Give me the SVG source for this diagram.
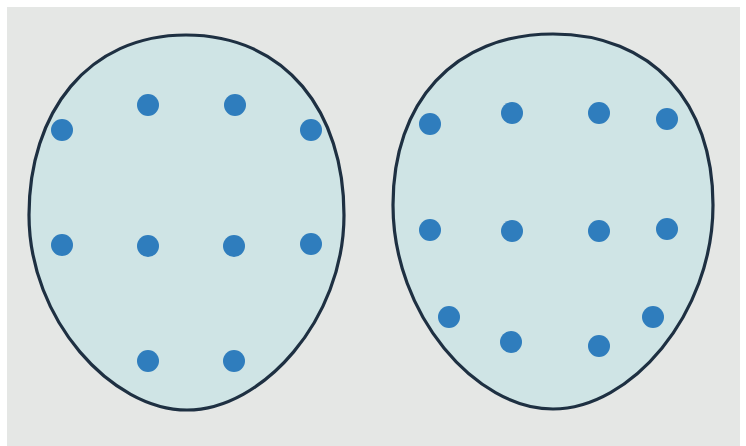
<svg xmlns="http://www.w3.org/2000/svg" width="746" height="446" viewBox="0 0 746 446">
<style>
.egg{fill:#cfe4e5;stroke:#1e3042;stroke-width:3.2}
.dot{fill:#2f7dbd}
</style>
<rect x="0" y="0" width="746" height="446" fill="#ffffff"/>
<rect x="7" y="7" width="733" height="439" fill="#e5e7e5"/>
<g id="egg-left">
<path class="egg" d="M186,35 C286,35 344,112 344,215 C344,320 262,410 187,410 C112,410 29,320 29,215 C29,112 88,35 186,35 Z"/>
<circle class="dot" cx="62" cy="130" r="11"/>
<circle class="dot" cx="148" cy="105" r="11"/>
<circle class="dot" cx="235" cy="105" r="11"/>
<circle class="dot" cx="311" cy="130" r="11"/>
<circle class="dot" cx="62" cy="245" r="11"/>
<circle class="dot" cx="148" cy="246" r="11"/>
<circle class="dot" cx="234" cy="246" r="11"/>
<circle class="dot" cx="311" cy="244" r="11"/>
<circle class="dot" cx="148" cy="361" r="11"/>
<circle class="dot" cx="234" cy="361" r="11"/>
</g>
<g id="egg-right">
<path class="egg" d="M553,34 C652,34 713,102 713,205 C713,315 630,409 553,409 C476,409 393,315 393,205 C393,102 454,34 553,34 Z"/>
<circle class="dot" cx="430" cy="124" r="11"/>
<circle class="dot" cx="512" cy="113" r="11"/>
<circle class="dot" cx="599" cy="113" r="11"/>
<circle class="dot" cx="667" cy="119" r="11"/>
<circle class="dot" cx="430" cy="230" r="11"/>
<circle class="dot" cx="512" cy="231" r="11"/>
<circle class="dot" cx="599" cy="231" r="11"/>
<circle class="dot" cx="667" cy="229" r="11"/>
<circle class="dot" cx="449" cy="317" r="11"/>
<circle class="dot" cx="511" cy="342" r="11"/>
<circle class="dot" cx="599" cy="346" r="11"/>
<circle class="dot" cx="653" cy="317" r="11"/>
</g>
</svg>
